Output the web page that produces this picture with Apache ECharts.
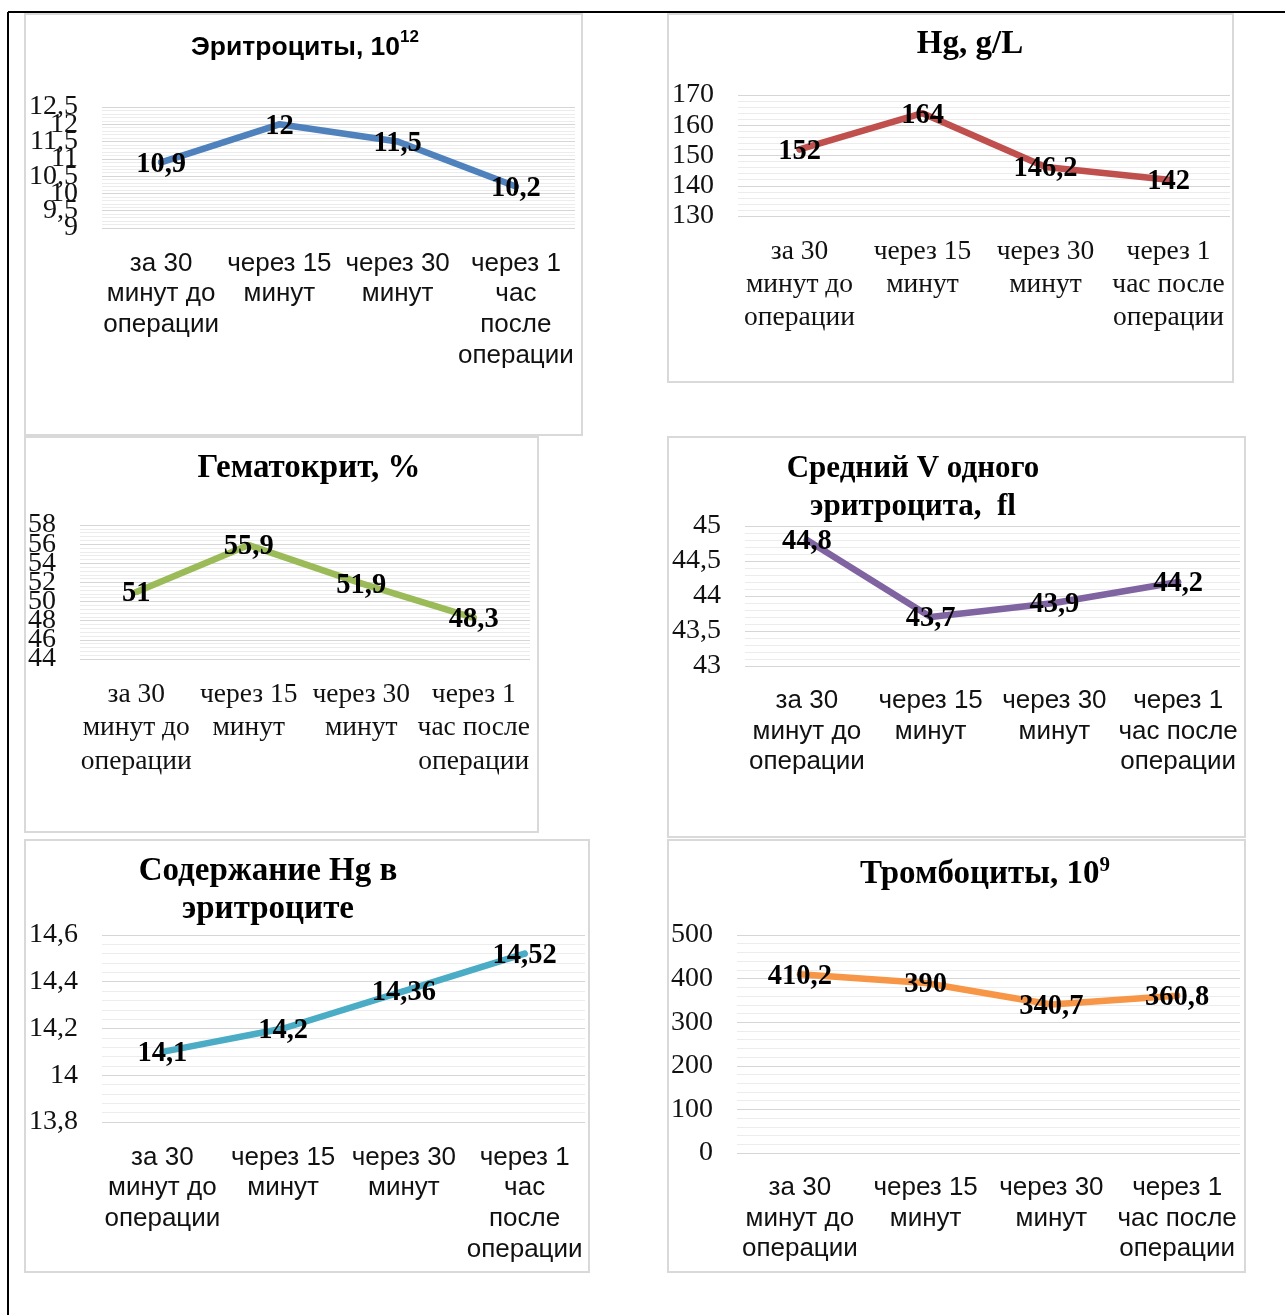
<!DOCTYPE html>
<html>
<head>
<meta charset="utf-8">
<script src="https://cdn.jsdelivr.net/npm/echarts@6/dist/echarts.min.js"></script>
<style>
  html, body { margin: 0; padding: 0; background: #fff; }
  #chart { width: 1285px; height: 1315px; }
</style>
</head>
<body>
<div id="chart"></div>
<script>
// Time points of blood sampling (two wrappings of the same labels)
const stagesNarrow = ['за 30\nминут до\nоперации', 'через 15\nминут', 'через 30\nминут', 'через 1\nчас\nпосле\nоперации'];
const stagesWide = ['за 30\nминут до\nоперации', 'через 15\nминут', 'через 30\nминут', 'через 1\nчас после\nоперации'];

// Measured values at each time point
const erythrocytes = [10.9, 12, 11.5, 10.2];        // 10^12
const hemoglobin = [152, 164, 146.2, 142];          // g/L
const hematocrit = [51, 55.9, 51.9, 48.3];          // %
const meanCellVolume = [44.8, 43.7, 43.9, 44.2];    // fl
const cellHemoglobin = [14.1, 14.2, 14.36, 14.52];
const platelets = [410.2, 390, 340.7, 360.8];       // 10^9

// Value-axis ranges [min, max, step]
const erythrocytesAxis = [9, 12.5, 0.5];
const hemoglobinAxis = [130, 170, 10];
const hematocritAxis = [44, 58, 2];
const meanCellVolumeAxis = [43, 45, 0.5];
const cellHemoglobinAxis = [13.8, 14.6, 0.2];
const plateletsAxis = [0, 500, 100];

const SANS = '"Liberation Sans", Arial, sans-serif';
const SERIF = '"Liberation Serif", "Times New Roman", serif';

const fmt = v => String(+(+v).toFixed(2)).replace('.', ',');

const panels = [
  { title: '{t|Эритроциты, 10}{s|12}', tFont: SANS, tSize: 26.5, tx: 305, ty: 48,
    box: [25, 14, 582, 435], grid: [102, 107, 473, 121], axis: erythrocytesAxis,
    data: erythrocytes, color: '#4F81BD', cats: stagesNarrow, cFont: SANS, cSize: 26, cLine: 30.7 },
  { title: '{t|Hg, g/L}', tFont: SERIF, tSize: 33, tx: 970, ty: 44,
    box: [668, 14, 1233, 382], grid: [738, 95, 492, 121], axis: hemoglobinAxis,
    data: hemoglobin, color: '#C0504D', cats: stagesWide, cFont: SERIF, cSize: 27.5, cLine: 33 },
  { title: '{t|Гематокрит, %}', tFont: SERIF, tSize: 33, tx: 309, ty: 468,
    box: [25, 437, 538, 832], grid: [80, 525, 450, 134], axis: hematocritAxis,
    data: hematocrit, color: '#9BBB59', cats: stagesWide, cFont: SERIF, cSize: 27.5, cLine: 33.5 },
  { title: '{t|Средний V одного}\n{t|эритроцита,  fl}', tFont: SERIF, tSize: 31, tx: 913, ty: 488,
    box: [668, 437, 1245, 837], grid: [745, 526, 495, 140], axis: meanCellVolumeAxis,
    data: meanCellVolume, color: '#8064A2', cats: stagesWide, cFont: SANS, cSize: 26, cLine: 30.5 },
  { title: '{t|Содержание Hg в}\n{t|эритроците}', tFont: SERIF, tSize: 33, tx: 268, ty: 890,
    box: [25, 840, 589, 1272], grid: [102, 935, 483, 187], axis: cellHemoglobinAxis,
    data: cellHemoglobin, color: '#4BACC6', cats: stagesNarrow, cFont: SANS, cSize: 26, cLine: 30.7 },
  { title: '{t|Тромбоциты, 10}{s|9}', tFont: SERIF, tSize: 33, tx: 985, ty: 874,
    box: [668, 840, 1245, 1272], grid: [737, 935, 503, 218], axis: plateletsAxis,
    data: platelets, color: '#F79646', cats: stagesWide, cFont: SANS, cSize: 26, cLine: 30.5 }
];

const option = {
  backgroundColor: '#fff',
  animation: false,
  title: [], grid: [], xAxis: [], yAxis: [], series: [],
  graphic: [
    // page frame
    { type: 'line', shape: { x1: 8, y1: 12, x2: 1285, y2: 12 }, style: { stroke: '#000', lineWidth: 2 } },
    { type: 'line', shape: { x1: 8, y1: 12, x2: 8, y2: 1315 }, style: { stroke: '#000', lineWidth: 2 } }
  ]
};

const yLabelStyle = {
  margin: 24, color: '#111', fontFamily: SERIF, fontSize: 28, formatter: fmt,
  hideOverlap: false, padding: [4, 0, 0, 0]
};

panels.forEach((p, i) => {
  const [x1, y1, x2, y2] = p.box;
  const [min, max, step] = p.axis;
  const serifCats = p.cFont === SERIF;

  // Tick values of the value axis, split into alternating sets so that
  // crowded labels are all drawn (each set lives on its own overlaid axis).
  const ticks = [];
  for (let k = 0; min + k * step <= max + step / 1000; k++) ticks.push(+(min + k * step).toFixed(4));
  const evenTicks = ticks.filter((_, k) => k % 2 === 0);
  const oddTicks = ticks.filter((_, k) => k % 2 === 1);

  option.graphic.push({
    type: 'rect', z: -1,
    shape: { x: x1, y: y1, width: x2 - x1, height: y2 - y1 },
    style: { fill: '#fff', stroke: '#d9d9d9', lineWidth: 2 }
  });
  option.title.push({
    text: p.title, left: p.tx, top: p.ty, padding: 0,
    textAlign: 'center', textVerticalAlign: 'middle',
    textStyle: {
      rich: {
        t: { fontFamily: p.tFont, fontWeight: 'bold', fontSize: p.tSize, lineHeight: 38, color: '#000' },
        s: { fontFamily: p.tFont, fontWeight: 'bold', fontSize: Math.round(p.tSize * 0.64), color: '#000', verticalAlign: 'top', lineHeight: 26 }
      }
    }
  });
  option.grid.push({ left: p.grid[0], top: p.grid[1], width: p.grid[2], height: p.grid[3], containLabel: false });
  option.xAxis.push({
    type: 'category', gridIndex: i, data: p.cats, boundaryGap: true,
    axisLine: { show: false }, axisTick: { show: false }, splitLine: { show: false },
    axisLabel: { interval: 0, margin: serifCats ? 19 : 20, color: '#111', fontFamily: p.cFont, fontSize: p.cSize, lineHeight: p.cLine, align: 'center' }
  });

  const mainIndex = option.yAxis.length;
  option.yAxis.push({
    type: 'value', gridIndex: i, position: 'left', min, max, interval: step,
    axisLine: { show: false }, axisTick: { show: false },
    axisLabel: Object.assign({ customValues: evenTicks, showMinLabel: true, showMaxLabel: true }, yLabelStyle),
    splitLine: { show: true, lineStyle: { color: '#d6d6d6', width: 1 } },
    minorTick: { show: false, splitNumber: 5 },
    minorSplitLine: { show: true, lineStyle: { color: '#ececec', width: 1 } }
  });
  option.yAxis.push({
    type: 'value', gridIndex: i, position: 'left', min, max, interval: step,
    axisLine: { show: false }, axisTick: { show: false }, splitLine: { show: false },
    axisLabel: Object.assign({ customValues: oddTicks, showMinLabel: true, showMaxLabel: true }, yLabelStyle)
  });

  option.series.push({
    type: 'line', xAxisIndex: i, yAxisIndex: mainIndex, data: p.data,
    symbol: 'circle', symbolSize: 6,
    itemStyle: { color: p.color },
    lineStyle: { color: p.color, width: 6.5, cap: 'round', join: 'round' },
    label: {
      show: true, position: 'inside', offset: [0, 2], formatter: d => fmt(d.value),
      color: '#000', fontFamily: SERIF, fontWeight: 'bold', fontSize: 28.5
    }
  });
});

const chart = echarts.init(document.getElementById('chart'), null, { renderer: 'canvas' });
chart.setOption(option);
</script>
</body>
</html>
